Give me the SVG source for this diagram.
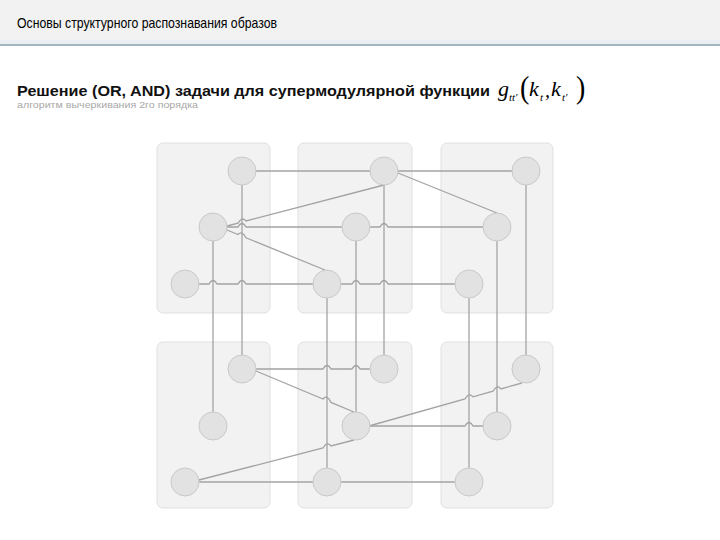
<svg xmlns="http://www.w3.org/2000/svg" width="720" height="540" viewBox="0 0 720 540">
<style>
.panel{fill:#f2f2f2;stroke:#e0e0e0;stroke-width:1}
.node{fill:#e2e2e2;stroke:#c9c9c9;stroke-width:1}
.ln{fill:none;stroke:#a3a3a3;stroke-width:1.3}
.f{font-family:"Liberation Serif",serif;font-style:italic;fill:#000}
.p{font-family:"Liberation Serif",serif;fill:#000}
</style>
<rect x="0" y="0" width="720" height="40" fill="#f2f2f2"/>
<rect x="0" y="40" width="720" height="4" fill="#e9eef3"/>
<rect x="0" y="44" width="720" height="2" fill="#a5b5c0"/>
<text x="17" y="28" font-family="Liberation Sans, sans-serif" font-size="14.5" textLength="260" lengthAdjust="spacingAndGlyphs" fill="#000">Основы структурного распознавания образов</text>
<text x="17" y="96" font-family="Liberation Sans, sans-serif" font-size="15" font-weight="bold" textLength="473" lengthAdjust="spacingAndGlyphs" fill="#111">Решение (OR, AND) задачи для супермодулярной функции</text>
<text x="17" y="108" font-family="Liberation Sans, sans-serif" font-size="9.5" textLength="181" lengthAdjust="spacingAndGlyphs" fill="#a8a8a8">алгоритм вычеркивания 2го порядка</text>
<g id="formula">
<text class="f" x="498" y="96" font-size="22">g</text>
<text class="f" x="509" y="101" font-size="11">tt'</text>
<text class="p" x="520" y="98" font-size="28" transform="translate(520 98) scale(1 1.15) translate(-520 -98)">(</text>
<text class="f" x="529" y="96" font-size="22">k</text>
<text class="f" x="540" y="101" font-size="11">t</text>
<text class="f" x="545" y="97" font-size="20">,</text>
<text class="f" x="551" y="96" font-size="22">k</text>
<text class="f" x="562" y="101" font-size="11">t'</text>
<text class="p" x="576" y="98" font-size="28" transform="translate(576 98) scale(1 1.15) translate(-576 -98)">)</text>
</g>
<g id="panels">
<rect class="panel" x="157" y="143" width="113" height="170" rx="6"/>
<rect class="panel" x="298" y="143" width="114" height="170" rx="6"/>
<rect class="panel" x="441" y="143" width="112" height="170" rx="6"/>
<rect class="panel" x="157" y="342" width="113" height="166" rx="6"/>
<rect class="panel" x="298" y="342" width="114" height="166" rx="6"/>
<rect class="panel" x="441" y="342" width="112" height="166" rx="6"/>
</g>
<g id="connectors">
<path class="ln" d="M242,171 V369"/>
<path class="ln" d="M213,227 V426"/>
<path class="ln" d="M327,284 V482"/>
<path class="ln" d="M356,227 V426"/>
<path class="ln" d="M384,171 V369"/>
<path class="ln" d="M469,284 V482"/>
<path class="ln" d="M497,227 V426"/>
<path class="ln" d="M526,171 V369"/>
<path class="ln" d="M242,171 H526"/>
<path class="ln" d="M227,226 L238,223.1 Q242,216 246,221 L384,185"/>
<path class="ln" d="M398,173 L497,213"/>
<path class="ln" d="M213,227 H238 Q242,220 246,227 H380 Q384,220 388,227 H497"/>
<path class="ln" d="M227,230 L238,234.5 Q242,230 246,237.8 L325,270"/>
<path class="ln" d="M185,284 H209 Q213,277 217,284 H238 Q242,277 246,284 H352 Q356,277 360,284 H380 Q384,277 388,284 H469"/>
<path class="ln" d="M242,369 H323 Q327,362 331,369 H352 Q356,362 360,369 H384"/>
<path class="ln" d="M256,371 L323,399 Q327,394 331,402.4 L354,412"/>
<path class="ln" d="M369,426 L465,399 Q469,392 473,396.8 L493,391.2 Q497,384 501,388.9 L522,383"/>
<path class="ln" d="M356,426 H465 Q469,419 473,426 H497"/>
<path class="ln" d="M199,480 L323,448 Q327,441 331,445.9 L354,440"/>
<path class="ln" d="M185,482 H469"/>
</g>
<g id="n-a1t"><circle class="node" cx="242" cy="171" r="14"/></g>
<g id="n-a1m"><circle class="node" cx="213" cy="227" r="14"/></g>
<g id="n-a1b"><circle class="node" cx="185" cy="284" r="14"/></g>
<g id="n-a2t"><circle class="node" cx="384" cy="171" r="14"/></g>
<g id="n-a2m"><circle class="node" cx="356" cy="227" r="14"/></g>
<g id="n-a2b"><circle class="node" cx="327" cy="284" r="14"/></g>
<g id="n-a3t"><circle class="node" cx="526" cy="171" r="14"/></g>
<g id="n-a3m"><circle class="node" cx="497" cy="227" r="14"/></g>
<g id="n-a3b"><circle class="node" cx="469" cy="284" r="14"/></g>
<g id="n-b1t"><circle class="node" cx="242" cy="369" r="14"/></g>
<g id="n-b1m"><circle class="node" cx="213" cy="426" r="14"/></g>
<g id="n-b1b"><circle class="node" cx="185" cy="482" r="14"/></g>
<g id="n-b2t"><circle class="node" cx="384" cy="369" r="14"/></g>
<g id="n-b2m"><circle class="node" cx="356" cy="426" r="14"/></g>
<g id="n-b2b"><circle class="node" cx="327" cy="482" r="14"/></g>
<g id="n-b3t"><circle class="node" cx="526" cy="369" r="14"/></g>
<g id="n-b3m"><circle class="node" cx="497" cy="426" r="14"/></g>
<g id="n-b3b"><circle class="node" cx="469" cy="482" r="14"/></g>
</svg>
